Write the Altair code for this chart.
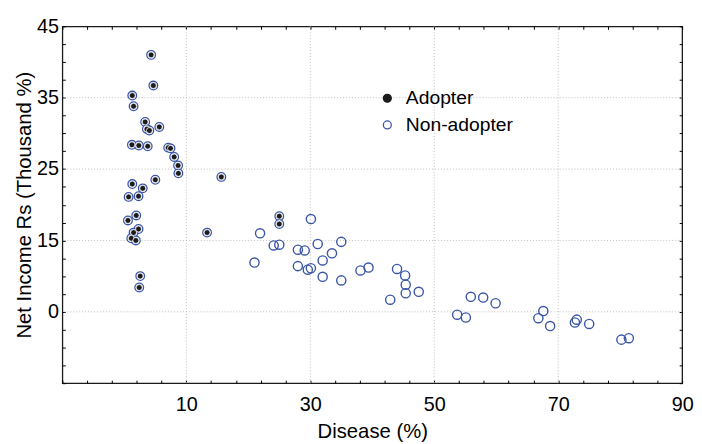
import altair as alt
import pandas as pd

BLUE = "#3a55a6"
DOT = "#1c1c1c"
FONT = "Liberation Sans"
groups = ["Adopter", "Non-adopter"]

# Adopters (disease %, net income)
adopter_x = [4.32, 4.68, 1.28, 1.49, 3.36, 3.64, 4.04, 5.64, 1.22, 2.34,
             3.77, 7.08, 7.45, 8.04, 8.67, 8.72, 15.65, 1.28, 2.97, 5.0,
             0.69, 2.29, 1.92, 0.58, 2.29, 1.49, 1.12, 1.86, 13.35, 2.56,
             2.4, 25.0, 25.0]
adopter_y = [41.0, 36.7, 35.3, 33.8, 31.6, 30.6, 30.4, 30.9, 28.4, 28.3,
             28.2, 28.0, 27.9, 26.7, 25.5, 24.4, 23.9, 22.9, 22.3, 23.5,
             21.1, 21.2, 18.5, 17.8, 16.6, 16.1, 15.3, 15.0, 16.1, 10.0,
             8.4, 18.4, 17.3]

# Non-adopters
non_x = [21.0, 21.9, 24.1, 25.0, 28.0, 29.1, 30.1, 31.2, 35.0, 33.5,
         32.0, 28.0, 29.6, 30.1, 32.0, 35.0, 38.1, 39.4, 44.0, 45.3,
         45.4, 45.4, 47.5, 42.9, 53.7, 55.1, 55.9, 57.9, 59.9, 67.6,
         66.8, 68.7, 73.0, 72.7, 75.0, 80.2, 81.4]
non_y = [11.9, 16.0, 14.3, 14.4, 13.7, 13.6, 18.0, 14.5, 14.8, 13.2,
         12.2, 11.4, 10.9, 11.1, 9.9, 9.4, 10.8, 11.2, 11.0, 10.1,
         8.8, 7.6, 7.8, 6.7, 4.6, 4.2, 7.1, 7.0, 6.2, 5.1,
         4.1, 3.0, 3.9, 3.5, 3.3, 1.1, 1.3]

# Axis ticks / labels as printed on the figure
x_major = [10, 30, 50, 70, 90]
x_major_labels = ["10", "30", "50", "70", "90"]
y_major = [5, 15, 25, 35, 45]
y_major_labels = ["0", "15", "25", "35", "45"]
x_minor = [-10, -6, -2, 2, 6, 10, 14, 18, 22, 26, 30, 34, 38, 42, 46, 50,
           54, 58, 62, 66, 70, 74, 78, 82, 86, 90]
y_minor = [-5, -2.5, 0, 2.5, 5, 7.5, 10, 12.5, 15, 17.5, 20, 22.5, 25, 27.5,
           30, 32.5, 35, 37.5, 40, 42.5, 45]
x_grid = [10, 30, 50, 70]
y_grid = [5, 15, 25, 35]

df_ad = pd.DataFrame({"disease": adopter_x, "income": adopter_y,
                      "group": ["Adopter"] * len(adopter_x)})
df_non = pd.DataFrame({"disease": non_x, "income": non_y,
                       "group": ["Non-adopter"] * len(non_x)})


def label_expr(values, labels):
    expr = "''"
    for v, l in reversed(list(zip(values, labels))):
        expr = f"datum.value == {v} ? '{l}' : ({expr})"
    return expr


xs = alt.Scale(domain=[-10, 90], nice=False, zero=False)
ys = alt.Scale(domain=[-5, 45], nice=False, zero=False)

common = dict(offset=-3, tickSize=3, domain=False, grid=False,
              tickColor="black", tickWidth=1, labelOverlap=False, labelFlush=False)

bottom_axis = alt.Axis(orient="bottom", values=x_minor,
                       labelExpr=label_expr(x_major, x_major_labels),
                       labelPadding=12, title="Disease (%)", titlePadding=7, **common)
left_axis = alt.Axis(orient="left", values=y_minor,
                     labelExpr=label_expr(y_major, y_major_labels),
                     labelPadding=4, title="Net Income Rs (Thousand %)",
                     titlePadding=2, **common)
top_axis = alt.Axis(orient="top", values=x_minor, labels=False, title=None, **common)
right_axis = alt.Axis(orient="right", values=y_minor, labels=False, title=None, **common)

grid_style = dict(color="#bdbdbd", strokeDash=[1, 2], strokeWidth=1)
rule_x = alt.Chart(pd.DataFrame({"v": x_grid})).mark_rule(**grid_style).encode(
    x=alt.X("v:Q", scale=xs, axis=None))
rule_y = alt.Chart(pd.DataFrame({"v": y_grid})).mark_rule(**grid_style).encode(
    y=alt.Y("v:Q", scale=ys, axis=None))

# outer blue rings of adopters (carry bottom / left axes)
rings = alt.Chart(df_ad).mark_circle(
    opacity=1, fill="white", stroke=BLUE, strokeWidth=1.3, size=76
).encode(
    x=alt.X("disease:Q", scale=xs, axis=bottom_axis),
    y=alt.Y("income:Q", scale=ys, axis=left_axis),
)

# black centre dots of adopters (carry top / right axes)
dots = alt.Chart(df_ad).mark_circle(
    opacity=1, fill=DOT, stroke="white", strokeWidth=0.8, size=36
).encode(
    x=alt.X("disease:Q", scale=xs, axis=top_axis),
    y=alt.Y("income:Q", scale=ys, axis=right_axis),
)

# open circles of non-adopters (carry the legend)
leg = alt.Legend(title=None, orient="none", legendX=319, legendY=63,
                 symbolType="circle", symbolSize=64, symbolStrokeWidth=1.3,
                 labelFont=FONT, labelFontSize=19.5, labelColor="black",
                 labelOffset=9, rowPadding=6, padding=0)

nonad = alt.Chart(df_non).mark_point(
    opacity=1, filled=True, strokeWidth=1.4, size=86, shape="circle"
).encode(
    x=alt.X("disease:Q", scale=xs, axis=None),
    y=alt.Y("income:Q", scale=ys, axis=None),
    stroke=alt.Stroke("group:N", scale=alt.Scale(domain=groups, range=[DOT, BLUE]), legend=leg),
    fill=alt.Fill("group:N", scale=alt.Scale(domain=groups, range=[DOT, "rgba(255,255,255,0)"]), legend=leg),
)

chart = alt.layer(rule_x, rule_y, rings, dots, nonad).resolve_axis(
    x="independent", y="independent"
).properties(
    width=627, height=361,
    autosize=alt.AutoSizeParams(type="none"),
    padding={"left": 55, "top": 16, "right": 12, "bottom": 59},
).configure_view(
    stroke="#1a1a1a", strokeWidth=1.3
).configure_axis(
    labelFont=FONT, labelFontSize=20, labelColor="black",
    titleFont=FONT, titleFontSize=20.5, titleFontWeight="normal", titleColor="black",
)

chart.save("out.html", embed_options={"renderer": "svg", "actions": False})
